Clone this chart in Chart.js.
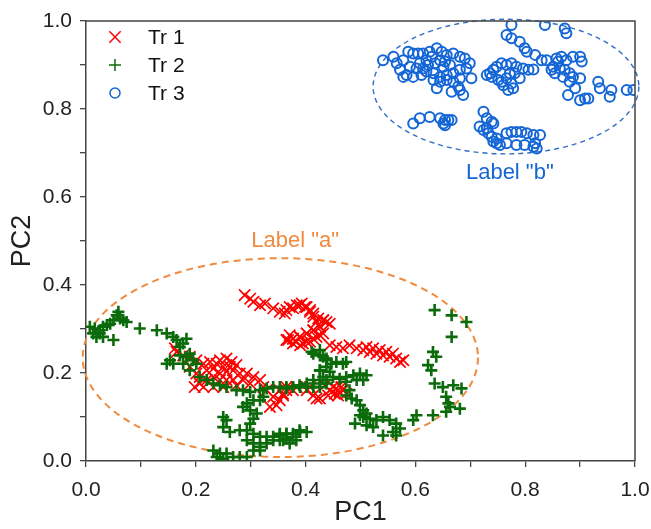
<!DOCTYPE html>
<html>
<head>
<meta charset="utf-8">
<script src="https://cdn.jsdelivr.net/npm/chart.js@4/dist/chart.umd.min.js"></script>
<style>
  html, body { margin: 0; padding: 0; background: #fff; }
  #wrap { width: 651px; height: 529px; }
</style>
</head>
<body>
<div id="wrap"><canvas id="pca"></canvas></div>
<script>
// --- data (PC1, PC2) ---
const tr1X = [.289,.299,.305,.317,.326,.341,.353,.362,.371,.384,.393,.402,.408,.414,.423,.432,.438,.426,.414,.402,.390,.377,.368,.377,.390,.402,.414,.426,
  .165,.177,.189,.201,.214,.226,.238,.244,.256,.265,.274,.268,.256,.244,.232,.220,.207,.198,.214,.232,.250,.268,.280,.293,.305,.317,.323,.329,.299,.286,.262,.250,.232,.220,.244,.256,.274,.189,.201,.207,.162,
  .335,.347,.353,.341,.359,.365,.384,.414,.426,.441,.435,
  .365,.377,.389,.399,.408,.414,.420,.432,.444,.426,.414,.402,.389,.377,.365,.383,.371,.395,.408,.420,.432,
  .444,.456,.468,.480,.493,.505,.517,.529,.541,.553,.565,.578,.535,.547,.559,.572,.511,.523,
  .444,.450,.456,.462,.468,.474,.459,.453,.465,.420,.408,.402,.353,.359,.365,.377,.383];
const tr1Y = [.377,.369,.362,.354,.358,.347,.339,.335,.350,.354,.358,.350,.343,.335,.324,.320,.316,.305,.297,.290,.282,.278,.275,.267,.263,.271,.278,.286,
  .248,.240,.237,.229,.221,.225,.221,.229,.233,.225,.218,.206,.203,.199,.191,.184,.176,.168,.168,.168,.168,.184,.199,.199,.191,.184,.168,.161,.176,.184,.214,.214,.210,.206,.184,.184,.172,.214,.199,.191,.256,
  .123,.127,.138,.146,.153,.161,.168,.149,.142,.149,.172,
  .343,.347,.354,.350,.339,.328,.316,.320,.312,.305,.297,.290,.282,.278,.275,.271,.286,.267,.271,.282,.290,
  .263,.259,.256,.263,.256,.252,.248,.244,.240,.237,.233,.229,.252,.248,.244,.225,.259,.256,
  .161,.168,.165,.157,.161,.153,.149,.153,.168,.142,.168,.161,.161,.149,.168,.161,.168];

const tr2X = [.007,.016,.025,.031,.038,.044,.050,.056,.059,.062,.068,.074,.050,.031,.019,.013,.025,.098,.129,.147,.159,.165,.177,.183,.171,.189,.195,.201,.183,.171,.153,.147,.159,.177,.189,
  .207,.220,.232,.244,.256,.274,.286,.299,.317,.329,.341,.353,.365,.377,.390,.402,.414,.426,.438,
  .293,.305,.317,.323,.286,.299,.311,.305,.299,.250,.256,.250,.262,.280,.293,.305,.317,.329,.341,.353,.365,.377,.390,.402,.293,.305,.317,.329,.341,.353,.365,.232,.244,.256,.268,.280,.293,.305,.317,.238,.250,
  .414,.426,.432,.438,.426,.438,.438,.432,
  .635,.666,.693,.666,.632,.638,.623,.629,.635,.650,.669,.684,.656,.660,.663,.656,.681,.632,.602,.596,
  .411,.426,.438,.447,.456,.468,.474,.426,.444,.450,.462,.474,.487,.499,.511,.505,.493,.474,.480,.474,.484,.493,.499,.505,.511,.499,.490,.505,.517,.529,.541,.553,.565,.572,.559,.541,.565,.523,.511,
  .414,.426,.402,.377,.389,.365,.353,.365,.377,.389,.359,.371,.383];
const tr2Y = [.305,.301,.297,.305,.309,.312,.320,.331,.339,.324,.320,.316,.275,.282,.282,.290,.290,.301,.297,.290,.282,.275,.267,.278,.259,.244,.229,.221,.237,.240,.229,.221,.221,.221,.206,
  .191,.184,.176,.172,.168,.161,.161,.157,.161,.165,.168,.168,.165,.168,.168,.168,.168,.168,.176,
  .131,.138,.138,.146,.123,.115,.108,.096,.085,.100,.093,.077,.066,.070,.070,.062,.055,.055,.055,.058,.062,.062,.066,.066,.047,.040,.032,.040,.047,.047,.051,.024,.017,.017,.009,.009,.009,.024,.024,.009,.005,
  .244,.252,.237,.229,.206,.214,.184,.191,
  .343,.331,.316,.282,.248,.237,.218,.206,.176,.168,.172,.165,.146,.131,.123,.112,.119,.104,.104,.093,
  .248,.240,.233,.221,.225,.221,.225,.206,.203,.191,.187,.191,.195,.199,.195,.184,.184,.180,.161,.149,.142,.138,.127,.115,.108,.104,.085,.100,.096,.093,.100,.093,.085,.074,.066,.058,.058,.077,.081,
  .184,.176,.176,.168,.172,.168,.062,.062,.055,.070,.047,.040,.047];

const tr3X = [.541,.560,.566,.578,.587,.596,.605,.590,.608,.620,.626,.639,.648,.657,.669,.681,.690,.699,.693,.681,.669,.657,.645,.633,.620,.611,.596,.584,.572,.578,.633,.645,.657,.669,.681,.702,.639,.666,.681,.687,.678,.651,.663,.614,.602,.623,.636,.645,.654,.630,.614,
  .730,.736,.742,.748,.757,.766,.775,.784,.796,.806,.815,.751,.757,.766,.775,.778,.769,.760,.790,.739,.781,.772,
  .775,.766,.775,.790,.799,.803,.818,.830,.839,.836,.872,.875,.857,.866,.875,.887,.900,.903,.851,.863,.872,.881,.887,.900,.881,.891,.878,.900,.909,.915,.933,.936,.957,.954,.985,.997,.848,.854,.869,.860,
  .596,.608,.626,.645,.654,.660,.666,.654,.651,
  .724,.730,.739,.742,.717,.724,.730,.733,.739,.742,.748,.754,.766,.766,.775,.784,.793,.803,.815,.827,.784,.799,.815,.821,.818,.748];
const tr3Y = [.911,.919,.904,.911,.930,.926,.926,.896,.904,.911,.930,.938,.930,.923,.926,.919,.915,.904,.892,.889,.881,.877,.873,.881,.885,.877,.873,.877,.889,.873,.866,.862,.866,.862,.870,.870,.847,.839,.843,.832,.851,.896,.900,.892,.892,.900,.904,.911,.908,.919,.926,
  .877,.881,.889,.896,.904,.900,.904,.896,.892,.889,.890,.866,.862,.870,.858,.847,.843,.854,.870,.873,.881,.881,
  .991,.968,.961,.953,.938,.930,.923,.911,.911,.991,.983,.972,.915,.919,.911,.919,.919,.908,.896,.892,.889,.881,.873,.870,.862,.847,.832,.820,.824,.824,.862,.847,.843,.828,.843,.843,.889,.881,.873,.908,
  .767,.779,.782,.779,.775,.775,.775,.763,.767,
  .794,.779,.771,.767,.760,.752,.756,.745,.737,.726,.722,.718,.722,.745,.748,.748,.748,.745,.741,.741,.718,.718,.714,.710,.722,.733];

const seriesNames = ['Tr 1', 'Tr 2', 'Tr 3'];
const tickVals = [0, 0.2, 0.4, 0.6, 0.8, 1.0];

// annotations: ellipse centre/radii in data units, text labels
const ellipseA = { cx: 0.354, cy: 0.235, rx: 0.360, ry: 0.226 };
const ellipseB = { cx: 0.765, cy: 0.851, rx: 0.242, ry: 0.153 };
const labelA = { x: 0.381, y: 0.50, text: 'Label "a"' };
const labelB = { x: 0.772, y: 0.655, text: 'Label "b"' };

const RED = '#ff0000', GREEN = '#0b6b0b', BLUE = '#1466d6';
const ORANGE = '#f08a3e', EBLUE = '#2f6fc4';
const AXIS = '#444';
const FONT = "Arial, 'Liberation Sans', sans-serif";

function pts(xs, ys){ return xs.map((x, i) => ({ x, y: ys[i] })); }

const ellipsePlugin = {
  id: 'ellipses',
  beforeDatasetsDraw(chart){
    const { ctx, scales: { x, y } } = chart;
    const draw = (e, color, w, dash) => {
      const cx = x.getPixelForValue(e.cx), cy = y.getPixelForValue(e.cy);
      const rx = x.getPixelForValue(e.cx + e.rx) - cx;
      const ry = cy - y.getPixelForValue(e.cy + e.ry);
      ctx.save();
      ctx.strokeStyle = color; ctx.lineWidth = w; ctx.setLineDash(dash);
      ctx.beginPath(); ctx.ellipse(cx, cy, rx, ry, 0, 0, Math.PI * 2); ctx.stroke();
      ctx.restore();
    };
    draw(ellipseA, ORANGE, 2, [7, 5]);
    draw(ellipseB, EBLUE, 1.4, [5, 4]);
  },
  afterDraw(chart){
    const { ctx, chartArea: a, scales: { x, y } } = chart;
    ctx.save();
    // top & right frame
    ctx.strokeStyle = AXIS; ctx.lineWidth = 1.5;
    ctx.beginPath();
    ctx.moveTo(a.left, a.top); ctx.lineTo(a.right, a.top); ctx.lineTo(a.right, a.bottom);
    ctx.stroke();
    // labels
    ctx.font = '22px ' + FONT; ctx.textAlign = 'center'; ctx.textBaseline = 'middle';
    ctx.fillStyle = ORANGE;
    ctx.fillText(labelA.text, x.getPixelForValue(labelA.x), y.getPixelForValue(labelA.y));
    ctx.fillStyle = BLUE;
    ctx.fillText(labelB.text, x.getPixelForValue(labelB.x), y.getPixelForValue(labelB.y));
    // legend
    ctx.font = '21px ' + FONT; ctx.textAlign = 'left';
    chart.data.datasets.forEach((ds, i) => {
      const ly = a.top + 16 + i * 28;
      ctx.strokeStyle = ds.borderColor; ctx.fillStyle = ds.backgroundColor;
      Chart.helpers.drawPoint(ctx, { pointStyle: ds.pointStyle, radius: ds.pointRadius, borderWidth: ds.borderWidth, rotation: 0 }, a.left + 29, ly);
      ctx.fillStyle = '#111';
      ctx.fillText(ds.label, a.left + 62, ly + 1);
    });
    ctx.restore();
  }
};

const tickCb = v => {
  const r = Math.round(v * 10) / 10;
  return tickVals.some(t => Math.abs(t - r) < 1e-6) ? r.toFixed(1) : '';
};

function axis(title, fit, tickPad, titlePad){
  return {
    type: 'linear', min: 0, max: 1,
    ticks: { stepSize: 0.1, autoSkip: false, maxRotation: 0, callback: tickCb,
             color: '#222', font: { family: FONT, size: 21 }, padding: tickPad },
    grid: { drawOnChartArea: false, drawTicks: true, tickLength: 6, color: AXIS, lineWidth: 1.3 },
    border: { display: true, color: AXIS, width: 1.5 },
    title: { display: true, text: title, color: '#222', font: { family: FONT, size: 27 }, padding: titlePad },
    afterFit: fit
  };
}

new Chart(document.getElementById('pca'), {
  type: 'scatter',
  data: {
    datasets: [
      { label: seriesNames[0], data: pts(tr1X, tr1Y), pointStyle: 'crossRot', pointRadius: 8,
        borderColor: RED, backgroundColor: RED, borderWidth: 1.7, order: 2 },
      { label: seriesNames[1], data: pts(tr2X, tr2Y), pointStyle: 'cross', pointRadius: 6,
        borderColor: GREEN, backgroundColor: GREEN, borderWidth: 2.6, order: 1 },
      { label: seriesNames[2], data: pts(tr3X, tr3Y), pointStyle: 'circle', pointRadius: 5,
        borderColor: BLUE, backgroundColor: 'rgba(0,0,0,0)', borderWidth: 2, order: 0 }
    ]
  },
  options: {
    responsive: true, maintainAspectRatio: false, animation: false,
    layout: { padding: { top: 21, right: 16, left: 0, bottom: 0 } },
    plugins: { legend: { display: false }, tooltip: { enabled: false } },
    scales: {
      x: axis('PC1', s => { s.height = 68; s.paddingLeft = 0; s.paddingRight = 0; }, 11, { top: 0, bottom: 0 }),
      y: axis('PC2', s => { s.width = 86; s.paddingTop = 0; s.paddingBottom = 0; }, 8, { top: 6, bottom: 0 })
    }
  },
  plugins: [ellipsePlugin]
});
</script>
</body>
</html>
